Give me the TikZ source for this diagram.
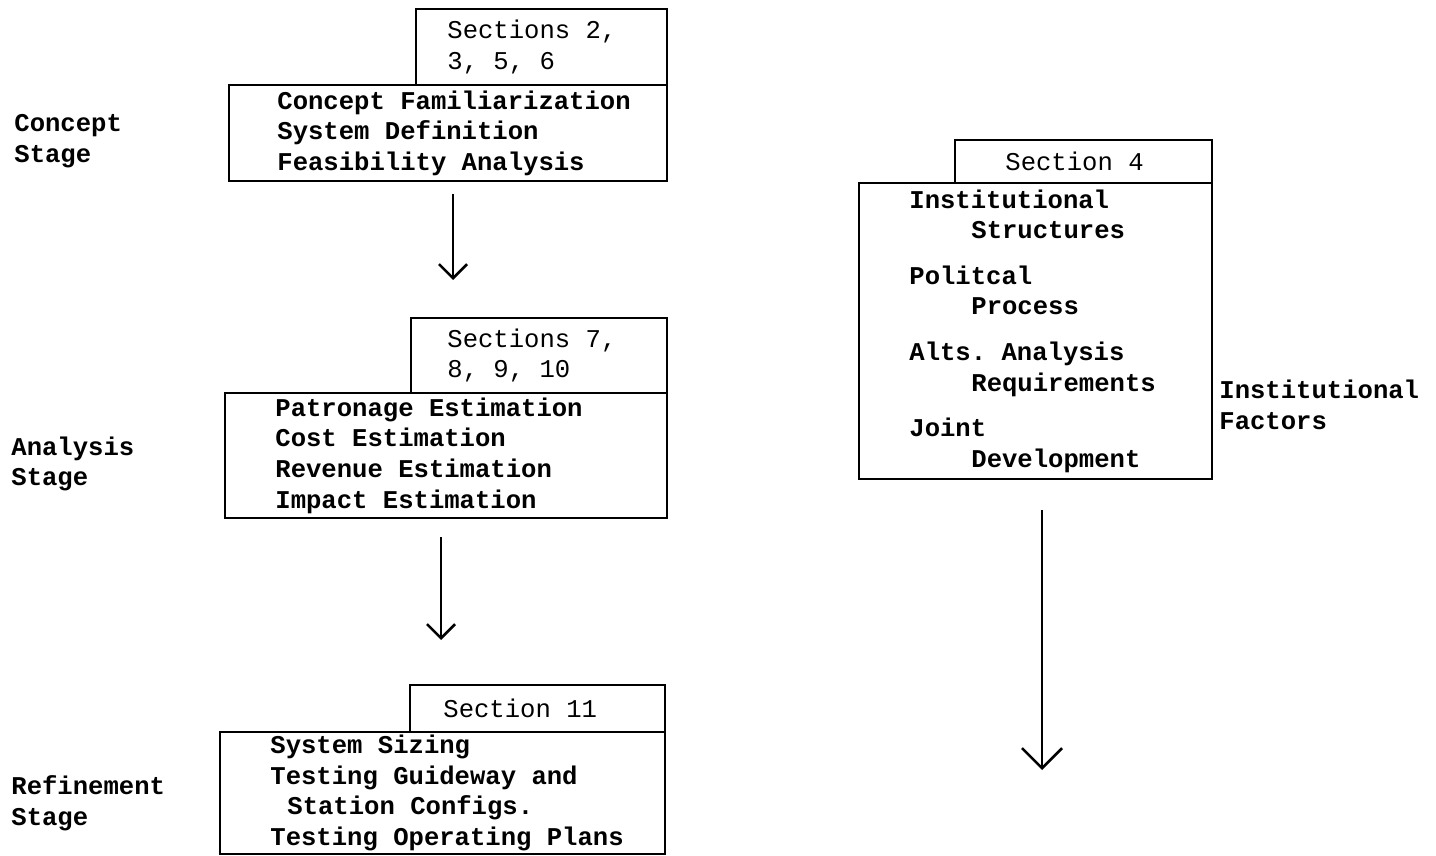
\documentclass[tikz,border=0pt]{standalone}
\usepackage{fontspec}
\setmonofont{Liberation Mono}
\usetikzlibrary{positioning,arrows.meta}
\tikzset{
  tab/.style={rectangle, draw, line width=1pt, anchor=north west, inner sep=0pt},
  panel/.style={rectangle, draw, line width=1pt, anchor=north west, inner sep=0pt},
  tabtxt/.style={anchor=west, inner sep=0pt, align=left,
                 font=\ttfamily\fontsize{12.8}{15.3}\selectfont},
  body/.style={anchor=west, inner sep=0pt, align=left,
               font=\ttfamily\bfseries\fontsize{12.8}{15.3}\selectfont},
  stage/.style={anchor=west, inner sep=0pt, align=left,
                font=\ttfamily\bfseries\fontsize{12.8}{15.3}\selectfont},
  flow/.style={-{Straight Barb[length=7pt, width=14pt, line width=1.3pt]}, line width=1.3pt},
  bigflow/.style={-{Straight Barb[length=10pt, width=20pt, line width=1.3pt]}, line width=1.3pt},
}

\begin{document}
\begin{tikzpicture}[x=0.5pt, y=-0.5pt]
  \useasboundingbox (0,0) rectangle (1436,856);

  % concept stage
  \node[tab, minimum width=125.5pt, minimum height=38pt] (h1) at (415,8) {};
  \node[panel, minimum width=219pt, minimum height=48pt] (c1) at (228,84) {};
  \node[tabtxt, right=16pt of h1.west] (s1) {Sections 2,\\3, 5, 6};
  \node[body, right=24.5pt of c1.west] (t1) {Concept Familiarization\\System Definition\\Feasibility Analysis};
  \node[stage] (l1) at (14,141) {Concept\\Stage};

  % analysis stage
  \node[tab, minimum width=128pt, minimum height=37.5pt] (h2) at (410,317) {};
  \node[panel, minimum width=221pt, minimum height=62.5pt] (c2) at (224,392) {};
  \node[tabtxt, right=18.5pt of h2.west] (s2) {Sections 7,\\8, 9, 10};
  \node[body, right=25.5pt of c2.west] (t2) {Patronage Estimation\\Cost Estimation\\Revenue Estimation\\Impact Estimation};
  \node[stage] (l2) at (11,464) {Analysis\\Stage};

  % refinement stage
  \node[tab, minimum width=127.5pt, minimum height=23.5pt] (h3) at (409,684) {};
  \node[panel, minimum width=222.5pt, minimum height=61pt] (c3) at (219,731) {};
  \node[tabtxt, right=17pt of h3.west] (s3) {Section 11};
  \node[body, right=25.5pt of c3.west] (t3) {System Sizing\\Testing Guideway and\\\hspace*{8.5pt}Station Configs.\\Testing Operating Plans};
  \node[stage] (l3) at (11,803) {Refinement\\Stage};

  % institutional factors
  \node[tab, minimum width=128.5pt, minimum height=21.5pt] (h4) at (954,139) {};
  \node[panel, minimum width=176.5pt, minimum height=148pt] (c4) at (858,182) {};
  \node[tabtxt, right=25.5pt of h4.west] (s4) {Section 4};
  \node[body, right=25.5pt of c4.west] (t4) {Institutional\\\hspace*{31pt}Structures\\[7.5pt]Politcal\\\hspace*{31pt}Process\\[7.5pt]Alts. Analysis\\\hspace*{31pt}Requirements\\[7.5pt]Joint\\\hspace*{31pt}Development};
  \node[stage] (l4) at (1219,405) {Institutional\\Factors};

  \coordinate (f4) at (1042,770);
  \draw[flow, shorten <=6pt, shorten >=18.5pt] ([xshift=2.5pt]c1.south) -- ([xshift=2.5pt]c1.south |- h2.north);
  \draw[flow, shorten <=9pt, shorten >=22pt] ([xshift=-2.5pt]c2.south) -- ([xshift=-2.5pt]c2.south |- h3.north);
  \draw[bigflow, shorten <=15pt] (c4.south -| f4) -- (f4);
\end{tikzpicture}
\end{document}
